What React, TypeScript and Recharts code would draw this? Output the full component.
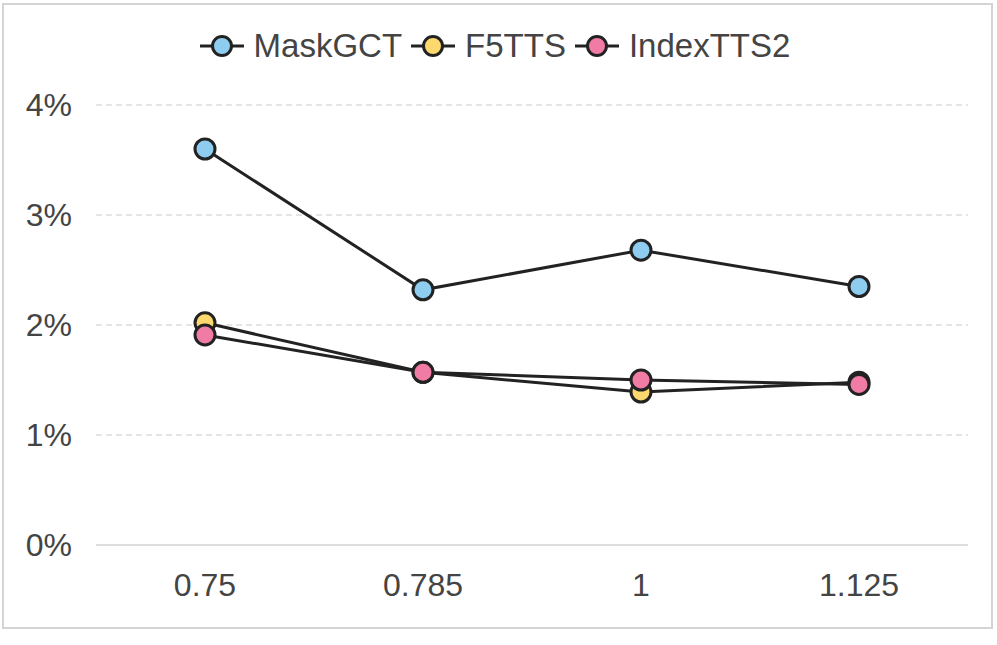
import React from "react";
import {
  LineChart,
  Line,
  XAxis,
  YAxis,
  CartesianGrid,
  Legend,
} from "recharts";

const speeds = ["0.75", "0.785", "1", "1.125"];
const maskGct = [3.6, 2.32, 2.68, 2.35];
const f5tts = [2.02, 1.57, 1.39, 1.48];
const indexTts2 = [1.91, 1.57, 1.5, 1.46];
const yTicks = [0, 1, 2, 3, 4];

const seriesList = [
  { key: "MaskGCT", fill: "#8ECDF0" },
  { key: "F5TTS", fill: "#FDD86E" },
  { key: "IndexTTS2", fill: "#F07BA5" },
];

const data = speeds.map((s, i) => ({
  speed: s,
  MaskGCT: maskGct[i],
  F5TTS: f5tts[i],
  IndexTTS2: indexTts2[i],
}));

const FONT = "'Liberation Sans', Arial, sans-serif";
const INK = "#222222";

function LegendContent() {
  return (
    <div
      style={{
        display: "flex",
        justifyContent: "center",
        alignItems: "center",
        fontFamily: FONT,
        fontSize: 33,
        color: "#444",
      }}
    >
      {seriesList.map((s) => (
        <div key={s.key} style={{ display: "flex", alignItems: "center", marginRight: 8 }}>
          <svg width={46} height={26} style={{ marginRight: 9 }}>
            <line x1={1} y1={13} x2={45} y2={13} stroke={INK} strokeWidth={3} />
            <circle cx={23} cy={13} r={9.5} fill={s.fill} stroke={INK} strokeWidth={3} />
          </svg>
          <span>{s.key}</span>
        </div>
      ))}
    </div>
  );
}

export default function App() {
  return (
    <div
      style={{
        position: "absolute",
        left: 0,
        top: 0,
        width: 997,
        height: 645,
        background: "#fff",
      }}
    >
      <div
        style={{
          position: "absolute",
          left: 2,
          top: 3,
          width: 987,
          height: 622,
          border: "2px solid #d4d4d4",
        }}
      />
      <div style={{ position: "absolute", left: 0, top: 0 }}>
        <LineChart
          width={997}
          height={645}
          data={data}
          margin={{ top: 105, right: 29, bottom: 40, left: 0 }}
        >
          <CartesianGrid
            vertical={false}
            stroke="#dddddd"
            strokeDasharray="6 4"
            strokeWidth={1.5}
          />
          <XAxis
            dataKey="speed"
            padding={{ left: 109, right: 109 }}
            axisLine={{ stroke: "#dddddd", strokeWidth: 2 }}
            tickLine={false}
            tickSize={0}
            tickMargin={28}
            height={60}
            tick={{ fill: "#444", fontSize: 32, fontFamily: FONT }}
          />
          <YAxis
            domain={[0, 4]}
            ticks={yTicks}
            tickFormatter={(v) => `${v}%`}
            axisLine={false}
            tickLine={false}
            tickSize={0}
            tickMargin={24}
            width={96}
            tick={{ fill: "#444", fontSize: 32, fontFamily: FONT }}
          />
          <Legend
            layout="horizontal"
            verticalAlign="middle"
            align="center"
            content={() => <LegendContent />}
            wrapperStyle={{ top: 27, left: 0, width: 997 }}
          />
          {seriesList.map((s) => (
            <Line
              key={s.key}
              dataKey={s.key}
              type="linear"
              stroke={INK}
              strokeWidth={3}
              dot={{ r: 10, fill: s.fill, stroke: INK, strokeWidth: 3 }}
              activeDot={false}
              isAnimationActive={false}
            />
          ))}
        </LineChart>
      </div>
    </div>
  );
}
